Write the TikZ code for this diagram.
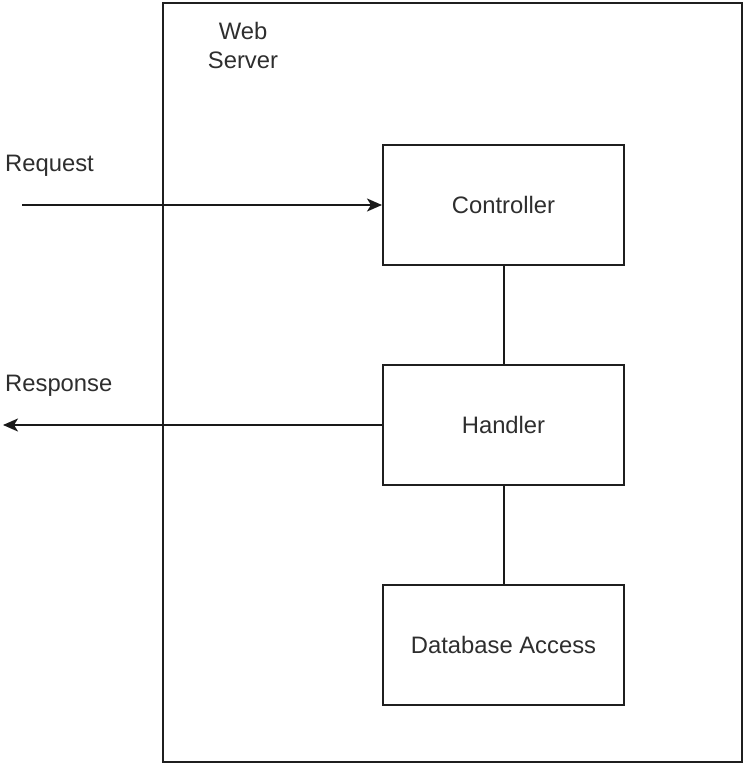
\documentclass[tikz,border=0pt]{standalone}
\usepackage{fontspec}
\setmainfont{Liberation Sans}
\usetikzlibrary{arrows.meta}
\begin{document}
\begin{tikzpicture}[x=1pt,y=-1pt,
  every node/.style={font=\fontsize{23.8}{29}\selectfont, text=black!82},
  frame/.style={draw=black!88, line width=2.4pt, inner sep=0pt},
  block/.style={draw=black!88, line width=2pt, minimum width=241pt, minimum height=120pt, inner sep=0pt},
  link/.style={draw=black!90, line width=2pt},
  flow/.style={link, -{Stealth[length=15pt,width=13pt,inset=4pt]}}]
\useasboundingbox (0,0) rectangle (745,765);

% web server container
\node[frame, minimum width=579pt, minimum height=759pt] (server) at (452.5,382.5) {};
\node[align=center, inner sep=0pt] (servlbl) at (243,45) {Web\\Server};

% components
\node[block] (ctrl) at (503.5,205) {Controller};
\node[block] (hand) at (503.5,425) {Handler};
\node[block] (db)   at (503.5,645) {Database Access};

\draw[link] (ctrl.south) -- (hand.north);
\draw[link] (hand.south) -- (db.north);

% request / response
\coordinate (reqstart) at (22,205);
\coordinate (respend) at (3,425);
\draw[flow] (reqstart) -- (ctrl.west);
\draw[flow] (hand.west) -- (respend);

\node[anchor=base west, inner sep=0pt] (reqlbl) at (5,171.5) {Request};
\node[anchor=base west, inner sep=0pt] (resplbl) at (5,391.5) {Response};
\end{tikzpicture}
\end{document}
